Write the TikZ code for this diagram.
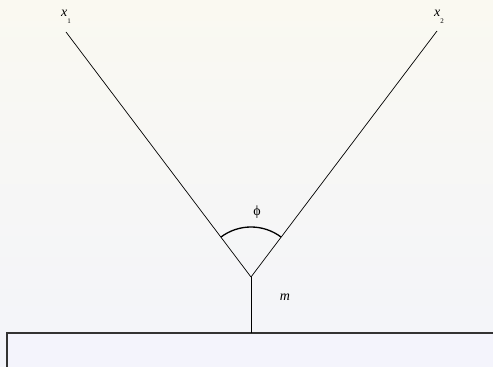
\documentclass[tikz,border=0pt]{standalone}
\usepackage{fontspec}
\setmainfont{Liberation Serif}
\definecolor{bgtop}{RGB}{250,249,241}
\definecolor{bgbot}{RGB}{243,244,250}
\definecolor{slab}{RGB}{244,244,252}
\tikzset{angsec/.style={x=1pt,y=1pt,font=\fontsize{14}{16}\selectfont},
  arm/.style={black,line width=0.7pt},
  lbl/.style={inner sep=0pt}}

\begin{document}
\begin{tikzpicture}[angsec]
    \shade[top color=bgtop,bottom color=bgbot] (0,0) rectangle (493,367); % background
    \useasboundingbox (0,0) rectangle (493,367);
    \fill[slab] (7,0) rectangle (495,34); % base block
    \draw[black!80,line width=1.1pt] (7,-2) -- (7,34) -- (495,34); % block edge
    \coordinate (v) at (251,90); % vertex
    \coordinate (b) at (251,34); % foot of stem
    \coordinate (e1) at (66,335); % left arm end
    \coordinate (e2) at (437,336); % right arm end
    \draw[arm] (v) -- (e1); % left arm
    \draw[arm] (v) -- (e2); % right arm
    \draw[arm] (v) -- (b); % stem
    \draw[line width=1.3pt] ([shift={(52.9:50)}]v) arc (52.9:127.1:50); % angle arc
    \node[lbl] (phi) at (257,155) {ϕ};
    \node[lbl] (m) at (285,70) {\textit{m}};
    \node[lbl] (x1) at (66,350) {\textit{x}\raisebox{-1.1ex}{\scriptsize 1}};
    \node[lbl] (x2) at (439,350) {\textit{x}\raisebox{-1.1ex}{\scriptsize 2}};
\end{tikzpicture}
\end{document}
